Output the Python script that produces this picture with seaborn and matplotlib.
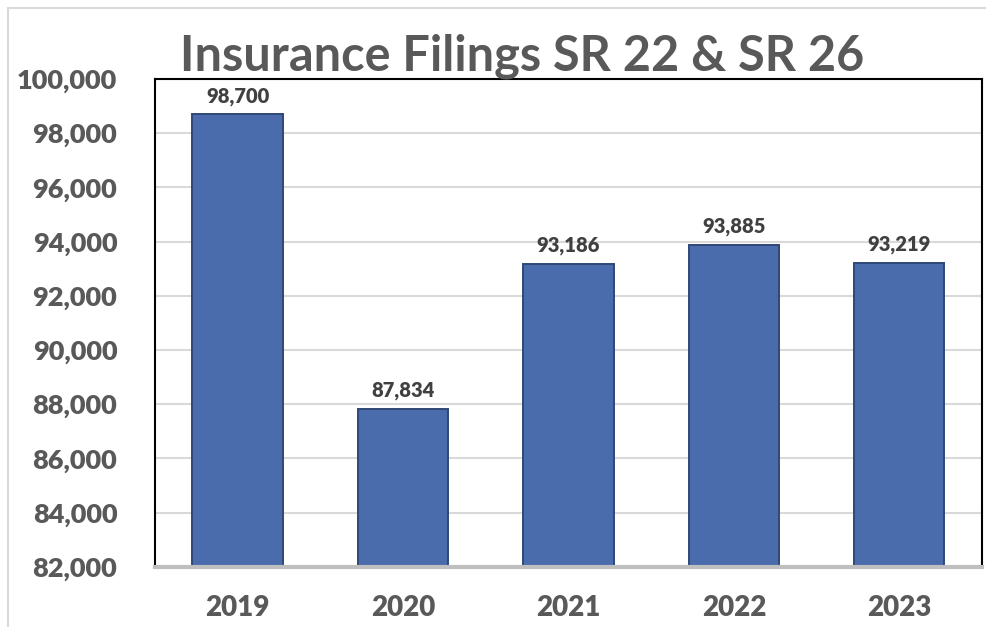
import numpy as np
import pandas as pd
import seaborn as sns
import matplotlib.pyplot as plt
from matplotlib.patches import Rectangle
from matplotlib.ticker import FuncFormatter

# Chart data
years = ['2019', '2020', '2021', '2022', '2023']
filings = [98700, 87834, 93186, 93885, 93219]
y_ticks = list(range(82000, 100001, 2000))

df = pd.DataFrame({'Year': years, 'Filings': filings})

sns.set_style('white')
plt.rcParams['font.family'] = ['Lato', 'DejaVu Sans']

fig = plt.figure(figsize=(9.86, 6.27), dpi=100)
ax = fig.add_axes([0.157, 0.096, 0.839, 0.778])

# light outer chart border
fig.patches.append(Rectangle((0.008, -0.01), 1.1, 0.997, transform=fig.transFigure,
                             fill=False, edgecolor='#d9d9d9', linewidth=1.5))

sns.barplot(data=df, x='Year', y='Filings', color='#4a6cad', width=0.545,
            edgecolor='#2f4777', linewidth=1.4, saturation=1, ax=ax)

ax.set_ylim(82000, 100000)
ax.set_yticks(y_ticks)
ax.yaxis.set_major_formatter(FuncFormatter(lambda v, p: f'{int(v):,}'))
ax.yaxis.grid(True, color='#d9d9d9', linewidth=1.5)
ax.set_axisbelow(True)

for s in ['left', 'top', 'right']:
    ax.spines[s].set_color('black')
    ax.spines[s].set_linewidth(1.5)
ax.spines['bottom'].set_color('#bfbfbf')
ax.spines['bottom'].set_linewidth(3)

ax.tick_params(axis='both', length=0, labelcolor='#595959')
ax.tick_params(axis='x', labelsize=20, pad=20)
ax.tick_params(axis='y', labelsize=19.5, pad=27)
for lbl in ax.get_xticklabels() + ax.get_yticklabels():
    lbl.set_fontweight('heavy')

ax.set_xlabel('')
ax.set_ylabel('')

for c in ax.containers:
    ax.bar_label(c, labels=[f'{v:,}' for v in filings], padding=6,
                 fontsize=14.5, fontweight='heavy', color='#404040')

fig.text(0.53, 0.91, 'Insurance Filings SR 22 & SR 26', ha='center', va='center',
         fontsize=35, fontweight='bold', color='#595959')

plt.savefig('out.png', dpi=100)
